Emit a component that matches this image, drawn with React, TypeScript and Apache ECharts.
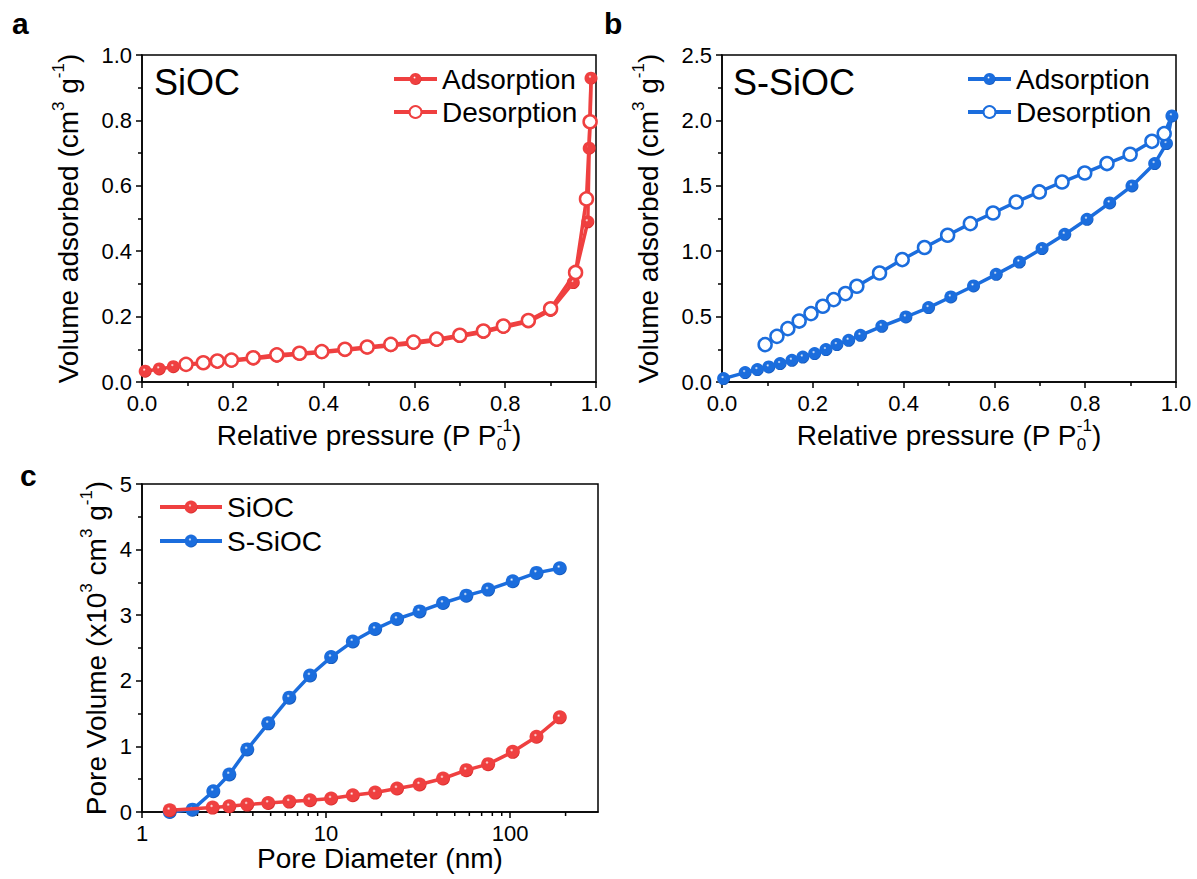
import React, { useEffect, useRef } from "react";
import * as echarts from "echarts";

const FONT = '"Liberation Sans", Arial, Helvetica, sans-serif';
const RED = "#ef4040";
const RED_DARK = "#d62626";
const BLUE = "#1b6ddd";
const BLUE_DARK = "#1154b5";

// Panel a: SiOC isotherm
const aAdsP = [0.007, 0.038, 0.069, 0.097, 0.135, 0.166, 0.197, 0.245, 0.297, 0.347, 0.396, 0.447, 0.496, 0.548, 0.598, 0.649, 0.7, 0.752, 0.796, 0.851, 0.9, 0.95, 0.982, 0.985, 0.989];
const aAdsV = [0.033, 0.04, 0.047, 0.052, 0.057, 0.061, 0.064, 0.071, 0.079, 0.085, 0.09, 0.097, 0.104, 0.111, 0.118, 0.127, 0.139, 0.152, 0.167, 0.184, 0.219, 0.304, 0.49, 0.715, 0.929];
const aDesP = [0.989, 0.987, 0.979, 0.955, 0.9, 0.851, 0.796, 0.752, 0.7, 0.649, 0.598, 0.548, 0.496, 0.447, 0.396, 0.347, 0.297, 0.245, 0.197, 0.166, 0.135, 0.097];
const aDesV = [0.929, 0.796, 0.56, 0.335, 0.224, 0.188, 0.171, 0.156, 0.143, 0.131, 0.122, 0.115, 0.107, 0.1, 0.093, 0.088, 0.083, 0.074, 0.067, 0.064, 0.059, 0.054];

// Panel b: S-SiOC isotherm
const bAdsP = [0.0035, 0.051, 0.078, 0.103, 0.128, 0.154, 0.178, 0.204, 0.229, 0.253, 0.279, 0.305, 0.352, 0.405, 0.455, 0.504, 0.554, 0.604, 0.655, 0.705, 0.755, 0.804, 0.854, 0.903, 0.953, 0.979, 0.991];
const bAdsV = [0.026, 0.072, 0.095, 0.115, 0.141, 0.166, 0.191, 0.217, 0.248, 0.286, 0.319, 0.357, 0.426, 0.497, 0.569, 0.65, 0.734, 0.823, 0.917, 1.02, 1.129, 1.244, 1.369, 1.499, 1.67, 1.823, 2.034];
const bDesP = [0.991, 0.974, 0.947, 0.899, 0.848, 0.799, 0.749, 0.699, 0.648, 0.597, 0.547, 0.497, 0.446, 0.397, 0.347, 0.297, 0.272, 0.246, 0.222, 0.196, 0.17, 0.145, 0.121, 0.095];
const bDesV = [2.034, 1.899, 1.84, 1.741, 1.67, 1.598, 1.529, 1.453, 1.376, 1.292, 1.211, 1.122, 1.028, 0.936, 0.833, 0.732, 0.676, 0.63, 0.579, 0.523, 0.466, 0.408, 0.349, 0.286];

// Panel c: pore size distribution
const cSiocD = [1.415, 2.42, 2.98, 3.73, 4.85, 6.31, 8.18, 10.65, 13.97, 18.48, 24.3, 32.2, 43.2, 57.8, 75.9, 103.3, 139, 186];
const cSiocV = [0.026, 0.067, 0.087, 0.113, 0.138, 0.159, 0.179, 0.205, 0.255, 0.296, 0.358, 0.419, 0.511, 0.638, 0.729, 0.917, 1.147, 1.443];
const cSSiocD = [1.415, 1.88, 2.44, 2.98, 3.73, 4.85, 6.31, 8.18, 10.65, 13.97, 18.48, 24.3, 32.2, 43.2, 57.8, 75.9, 103.3, 139, 186];
const cSSiocV = [0.0, 0.036, 0.317, 0.572, 0.954, 1.351, 1.743, 2.08, 2.361, 2.6, 2.789, 2.942, 3.058, 3.186, 3.298, 3.39, 3.517, 3.645, 3.716];
const cLogMinor = [2, 3, 4, 5, 6, 7, 8, 9, 20, 30, 40, 50, 60, 70, 80, 90, 200];

const zip = (xs: number[], ys: number[]) => xs.map((x, i) => [x, ys[i]]);

const sphere = (c: string, dark: string) =>
  new echarts.graphic.RadialGradient(0.42, 0.38, 0.62, [
    { offset: 0, color: "#ffffff" },
    { offset: 0.2, color: c },
    { offset: 0.85, color: c },
    { offset: 1, color: dark },
  ]);

const rich = {
  n: { fontSize: 28, fontFamily: FONT, color: "#000", lineHeight: 36, align: "left" },
  sup: { fontSize: 17, fontFamily: FONT, color: "#000", lineHeight: 20, verticalAlign: "top", align: "left" },
  sub: { fontSize: 17, fontFamily: FONT, color: "#000", lineHeight: 20, verticalAlign: "bottom", align: "left", width: 0 },
};

const tickLabel = { fontSize: 22, fontFamily: FONT, color: "#000" };

function valueAxis(gridIndex: number, min: number, max: number, interval: number, digits: number, extra: any) {
  return {
    gridIndex,
    type: "value",
    min,
    max,
    interval,
    axisLine: { show: true, onZero: false, lineStyle: { color: "#000", width: 1.5 } },
    axisTick: { show: true, length: 6, lineStyle: { color: "#000", width: 1.5 } },
    minorTick: { show: true, splitNumber: 2, length: 4, lineStyle: { color: "#000", width: 1.5 } },
    splitLine: { show: false },
    axisLabel: { ...tickLabel, margin: 10, formatter: (v: number) => v.toFixed(digits) },
    nameLocation: "middle",
    nameTextStyle: { rich, fontSize: 28, fontFamily: FONT, color: "#000" },
    ...extra,
  };
}

const xNameRP = "{n|Relative pressure (P P}{sub|0}{sup|-1}{n|)}";
const yNameVA = "{n|Volume adsorbed (cm}{sup|3}{n| g}{sup|-1}{n|)}";
const yNamePV = "{n|Pore Volume (x10}{sup|3}{n| cm}{sup|3}{n| g}{sup|-1}{n|)}";

function lineSeries(name: string, idx: number, data: any[], color: string, dark: string, open: boolean, z: number, size: number) {
  return {
    name,
    type: "line",
    xAxisIndex: idx,
    yAxisIndex: idx,
    data,
    symbol: "circle",
    symbolSize: size,
    showSymbol: true,
    z,
    lineStyle: { color, width: 3.5 },
    itemStyle: open
      ? { color: "#ffffff", borderColor: color, borderWidth: 2.5 }
      : { color: sphere(color, dark), borderWidth: 0 },
    emphasis: { disabled: true },
  };
}

export default function App() {
  const ref = useRef<HTMLDivElement>(null);
  useEffect(() => {
    document.body.style.margin = "0";
    const chart = echarts.init(ref.current!, null, { renderer: "svg" });

    const aDes = zip(aDesP, aDesV).map((p, i) => (i === 0 ? { value: p, symbol: "none" } : p));
    const bDes = zip(bDesP, bDesV).map((p, i) => (i === 0 ? { value: p, symbol: "none" } : p));

    const legendText = { fontSize: 28, fontFamily: FONT, color: "#000", lineHeight: 30 };
    const legendCommon = {
      orient: "vertical",
      itemHeight: 15,
      itemGap: 3,
      formatter: (n: string) => n.slice(2),
      textStyle: legendText,
      selectedMode: false,
      lineStyle: { width: 4 },
    };

    chart.setOption({
      animation: false,
      backgroundColor: "#ffffff",
      textStyle: { fontFamily: FONT },
      grid: [
        { left: 142, top: 55, width: 454, height: 327, show: true, borderColor: "#000", borderWidth: 1.5 },
        { left: 722, top: 55, width: 454, height: 327, show: true, borderColor: "#000", borderWidth: 1.5 },
        { left: 142, top: 484, width: 456, height: 328, show: true, borderColor: "#000", borderWidth: 1.5 },
      ],
      xAxis: [
        valueAxis(0, 0, 1, 0.2, 1, { name: xNameRP, nameGap: 35 }),
        valueAxis(1, 0, 1, 0.2, 1, { name: xNameRP, nameGap: 35 }),
        {
          gridIndex: 2,
          type: "log",
          logBase: 10,
          min: 1,
          max: 300,
          axisLine: { show: true, onZero: false, lineStyle: { color: "#000", width: 1.5 } },
          axisTick: { show: true, length: 6, lineStyle: { color: "#000", width: 1.5 } },
          minorTick: { show: false },
          splitLine: { show: false },
          axisLabel: { ...tickLabel, margin: 10, showMaxLabel: false },
          name: "Pore Diameter (nm)",
          nameLocation: "middle",
          nameGap: 30,
          nameTextStyle: { fontSize: 28, fontFamily: FONT, color: "#000", padding: [0, 0, 0, 20] },
        },
      ],
      yAxis: [
        valueAxis(0, 0, 1, 0.2, 1, { name: yNameVA, nameGap: 56, nameRotate: 90 }),
        valueAxis(1, 0, 2.5, 0.5, 1, { name: yNameVA, nameGap: 56, nameRotate: 90 }),
        valueAxis(2, 0, 5, 1, 0, { name: yNamePV, nameGap: 28, nameRotate: 90 }),
      ],
      legend: [
        { ...legendCommon, data: ["a-Adsorption", "a-Desorption"], left: 387, top: 59, itemWidth: 43 },
        { ...legendCommon, data: ["b-Adsorption", "b-Desorption"], left: 961, top: 59, itemWidth: 43 },
        { ...legendCommon, data: ["c-SiOC", "c-S-SiOC"], left: 153, top: 487, itemWidth: 62, itemHeight: 16, itemGap: 4 },
      ],
      graphic: [
        { type: "text", left: 12, top: 8, style: { text: "a", font: `bold 30px ${FONT}`, fill: "#000" } },
        { type: "text", left: 604, top: 8, style: { text: "b", font: `bold 30px ${FONT}`, fill: "#000" } },
        { type: "text", left: 20, top: 460, style: { text: "c", font: `bold 30px ${FONT}`, fill: "#000" } },
        { type: "text", left: 154, top: 64, style: { text: "SiOC", font: `36px ${FONT}`, fill: "#000" } },
        { type: "text", left: 733, top: 64, style: { text: "S-SiOC", font: `36px ${FONT}`, fill: "#000" } },
      ],
      series: [
        lineSeries("a-Adsorption", 0, zip(aAdsP, aAdsV), RED, RED_DARK, false, 2, 13),
        lineSeries("a-Desorption", 0, aDes, RED, RED_DARK, true, 3, 13),
        lineSeries("b-Adsorption", 1, zip(bAdsP, bAdsV), BLUE, BLUE_DARK, false, 2, 13),
        lineSeries("b-Desorption", 1, bDes, BLUE, BLUE_DARK, true, 3, 13),
        lineSeries("c-S-SiOC", 2, zip(cSSiocD, cSSiocV), BLUE, BLUE_DARK, false, 2, 14),
        lineSeries("c-SiOC", 2, zip(cSiocD, cSiocV), RED, RED_DARK, false, 3, 14),
        {
          type: "custom",
          xAxisIndex: 2,
          yAxisIndex: 2,
          clip: false,
          silent: true,
          data: cLogMinor.map((v) => [v, 0]),
          renderItem: (params: any, api: any) => {
            const p = api.coord([api.value(0), 0]);
            return {
              type: "line",
              shape: { x1: p[0], y1: p[1], x2: p[0], y2: p[1] + 4 },
              style: { stroke: "#000", lineWidth: 1.5 },
            };
          },
        },
      ],
    });
    return () => chart.dispose();
  }, []);
  return <div ref={ref} style={{ position: "absolute", left: 0, top: 0, width: 1197, height: 879 }} />;
}
